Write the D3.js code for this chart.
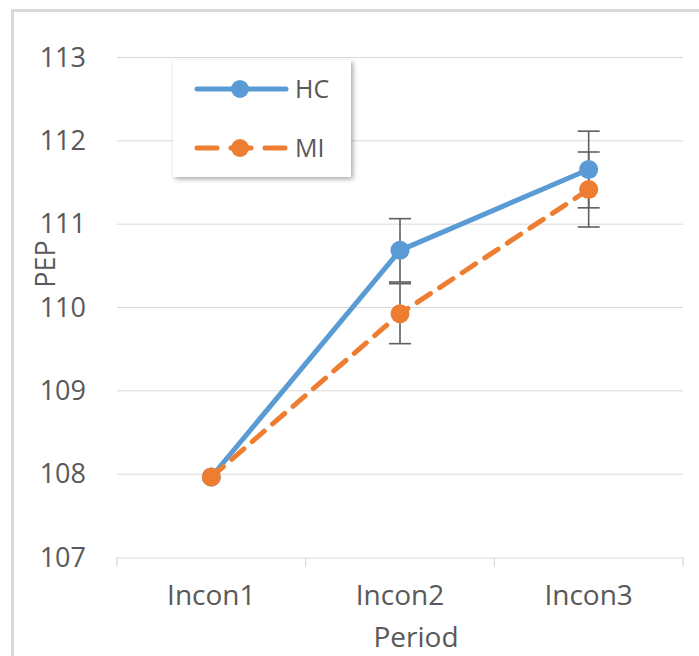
<!DOCTYPE html>
<html><head><meta charset="utf-8">
<script src="https://cdn.jsdelivr.net/npm/d3@7"></script>
<style>
html,body{margin:0;padding:0;background:#fff;}
svg{display:block;}
text{font-family:"Open Sans",sans-serif;fill:#595959;}
</style></head>
<body>
<svg id="chart" width="699" height="656"></svg>
<script>
const categories = ["Incon1", "Incon2", "Incon3"];
const hcValues = [107.96, 110.68, 111.65];
const hcErrors = [0, 0.38, 0.46];
const miValues = [107.96, 109.92, 111.41];
const miErrors = [0, 0.36, 0.45];
const yTicks = [107, 108, 109, 110, 111, 112, 113];
const seriesNames = ["HC", "MI"];

const svg = d3.select("#chart");
const W = 699, H = 656;
const m = {left:117, right:16, top:57, bottom:99};
const x = d3.scaleBand().domain(categories).range([m.left, W - m.right]);
const y = d3.scaleLinear().domain([107, 113]).range([H - m.bottom, m.top]);

// outer border
svg.append("path").attr("d", `M12.5,${H} V10.5 H${W}`).attr("fill","none")
  .attr("stroke","#d9d9d9").attr("stroke-width",3);

// gridlines
svg.append("g").selectAll("line").data(yTicks.slice(1)).join("line")
  .attr("x1", m.left).attr("x2", W - m.right)
  .attr("y1", d => y(d)+0.5).attr("y2", d => y(d)+0.5)
  .attr("stroke", "#d9d9d9").attr("stroke-width", 1);

// y tick labels
svg.append("g").selectAll("text").data(yTicks).join("text")
  .attr("x", 86).attr("y", d => y(d)).attr("dy", "0.36em")
  .attr("text-anchor", "end").attr("font-size", 27).text(d => d);

// x axis
const xAxis = d3.axisBottom(x).tickSize(0).tickFormat(d => d);
const gx = svg.append("g").attr("transform", `translate(0,${y(107)+0.5})`).call(xAxis);
gx.select(".domain").attr("stroke", "#d9d9d9").attr("stroke-width", 1.2);
gx.selectAll(".tick text").attr("font-size", 28).attr("dy", 0).attr("y", 47)
  .style("font-family", '"Open Sans",sans-serif').attr("fill", "#595959");
// category boundary ticks
const bounds = categories.map(c => x(c)).concat([x(categories[categories.length-1]) + x.bandwidth()]);
gx.append("g").selectAll("line").data(bounds).join("line")
  .attr("x1", d => d).attr("x2", d => d).attr("y1", 0).attr("y2", 9)
  .attr("stroke", "#d9d9d9").attr("stroke-width", 1.2);

// axis titles
svg.append("text").attr("x", 416).attr("y", 647).attr("text-anchor", "middle")
  .attr("font-size", 28).text("Period");
svg.append("text").attr("transform", "translate(55,264) rotate(-90)")
  .attr("text-anchor", "middle").attr("font-size", 27).text("PEP");

const cx = d => x(d) + x.bandwidth()/2;
const series = [
  {name: seriesNames[0], vals: hcValues, errs: hcErrors, color: "#5b9bd5", dash: null},
  {name: seriesNames[1], vals: miValues, errs: miErrors, color: "#ed7d31", dash: "16,11"}
];

const line = d3.line().x((d,i) => cx(categories[i])).y(d => y(d));

// error bars
series.forEach(s => {
  const g = svg.append("g");
  s.vals.forEach((v, i) => {
    if (!s.errs[i]) return;
    const X = cx(categories[i]);
    g.append("line").attr("x1", X).attr("x2", X).attr("y1", y(v + s.errs[i])).attr("y2", y(v - s.errs[i]))
      .attr("stroke", "#5f5f5f").attr("stroke-width", 1.6);
    [v + s.errs[i], v - s.errs[i]].forEach(e => {
      g.append("line").attr("x1", X - 11).attr("x2", X + 11).attr("y1", y(e)).attr("y2", y(e))
        .attr("stroke", "#5f5f5f").attr("stroke-width", 1.6);
    });
  });
});

// lines & markers
series.forEach(s => {
  svg.append("path").datum(s.vals).attr("d", line).attr("fill", "none")
    .attr("stroke", s.color).attr("stroke-width", 5).attr("stroke-linecap", "round")
    .attr("stroke-dasharray", s.dash);
  svg.append("g").selectAll("circle").data(s.vals).join("circle")
    .attr("cx", (d,i) => cx(categories[i])).attr("cy", d => y(d)).attr("r", 9.5)
    .attr("fill", s.color);
});

// legend
const defs = svg.append("defs");
const f = defs.append("filter").attr("id", "sh").attr("x", "-20%").attr("y", "-20%").attr("width", "140%").attr("height", "140%");
f.append("feDropShadow").attr("dx", 2).attr("dy", 2).attr("stdDeviation", 2.5).attr("flood-color", "#000").attr("flood-opacity", 0.35);
const lg = svg.append("g").attr("transform", "translate(173,60)");
lg.append("rect").attr("width", 178).attr("height", 117).attr("fill", "#fff").attr("filter", "url(#sh)");
series.forEach((s, i) => {
  const yy = 29 + i * 59;
  lg.append("line").attr("x1", 24).attr("x2", 113).attr("y1", yy).attr("y2", yy)
    .attr("stroke", s.color).attr("stroke-width", 5).attr("stroke-linecap", "round")
    .attr("stroke-dasharray", s.dash ? "20,14" : null);
  lg.append("circle").attr("cx", 67).attr("cy", yy).attr("r", 9).attr("fill", s.color);
  lg.append("text").attr("x", 122).attr("y", yy).attr("dy", "0.36em").attr("font-size", 25).text(s.name);
});
</script>
</body></html>
